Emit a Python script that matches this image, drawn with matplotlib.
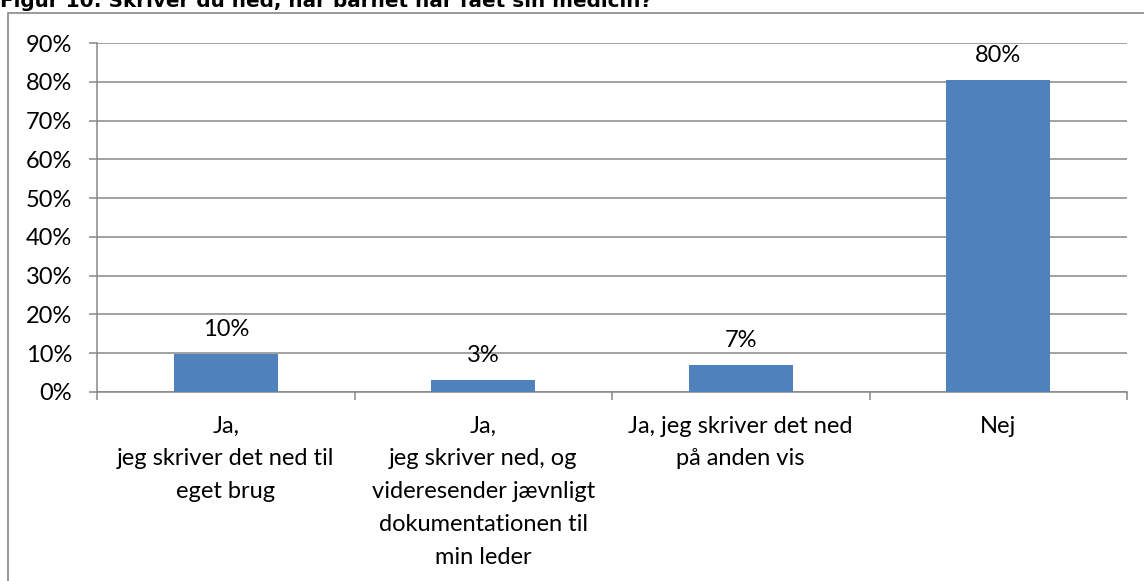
import matplotlib
matplotlib.use("Agg")
import matplotlib.pyplot as plt
from matplotlib.patches import Rectangle
from matplotlib.ticker import FuncFormatter

categories = [
    "Ja,\njeg skriver det ned til\neget brug",
    "Ja,\njeg skriver ned, og\nvideresender jævnligt\ndokumentationen til\nmin leder",
    "Ja, jeg skriver det ned\npå anden vis",
    "Nej",
]
values = [9.8, 3.1, 7.0, 80.4]
value_labels = ["10%", "3%", "7%", "80%"]
yticks = [0, 10, 20, 30, 40, 50, 60, 70, 80, 90]
title = "Figur 10: Skriver du ned, når barnet har fået sin medicin?"

W, H = 1144, 581
fig = plt.figure(figsize=(W / 100, H / 100), dpi=100)
fig.patch.set_facecolor("white")

FONT = "Lato"
FS = 17
grey = "#878787"
bar_color = "#4F81BD"

# outer chart border
fig.patches.append(Rectangle((8 / W, -0.05), 1.2, (H - 13) / H + 0.05,
                             transform=fig.transFigure, fill=False,
                             edgecolor=grey, linewidth=1.2, zorder=0))

ax = fig.add_axes([97 / W, (H - 392) / H, (1127 - 97) / W, (392 - 43) / H])
x = list(range(len(categories)))
ax.bar(x, values, width=0.404, color=bar_color, zorder=3)
ax.set_xlim(-0.5, len(categories) - 0.5)
ax.set_ylim(0, 90)
ax.set_yticks(yticks)
ax.yaxis.set_major_formatter(FuncFormatter(lambda v, p: f"{int(v)}%"))
ax.grid(axis="y", color=grey, linewidth=1.1, zorder=0)
ax.set_axisbelow(True)

for s in ["top", "right"]:
    ax.spines[s].set_visible(False)
for s in ["left", "bottom"]:
    ax.spines[s].set_color(grey)
    ax.spines[s].set_linewidth(1.1)

ax.set_xticks(x)
ax.set_xticklabels(categories, fontfamily=FONT, fontsize=FS, linespacing=1.69, va="top")
ax.set_xticks([i - 0.5 for i in range(len(categories) + 1)], minor=True)
ax.tick_params(axis="x", which="major", length=0, pad=17)
ax.tick_params(axis="x", which="minor", length=6, color=grey, width=1.1)
ax.tick_params(axis="y", which="major", length=6, color=grey, width=1.1, pad=12,
               labelsize=FS)
for lab in ax.get_yticklabels():
    lab.set_fontfamily(FONT)

for xi, v, lab in zip(x, values, value_labels):
    ax.annotate(lab, (xi, v), xytext=(0, 13), textcoords="offset points",
                ha="center", va="baseline", fontfamily=FONT, fontsize=FS, zorder=4)

fig.text(0, (H - 7) / H, title, fontfamily="DejaVu Sans", fontweight="bold",
         fontsize=14.4, ha="left", va="baseline")

fig.savefig("out.png", dpi=100, facecolor="white")
